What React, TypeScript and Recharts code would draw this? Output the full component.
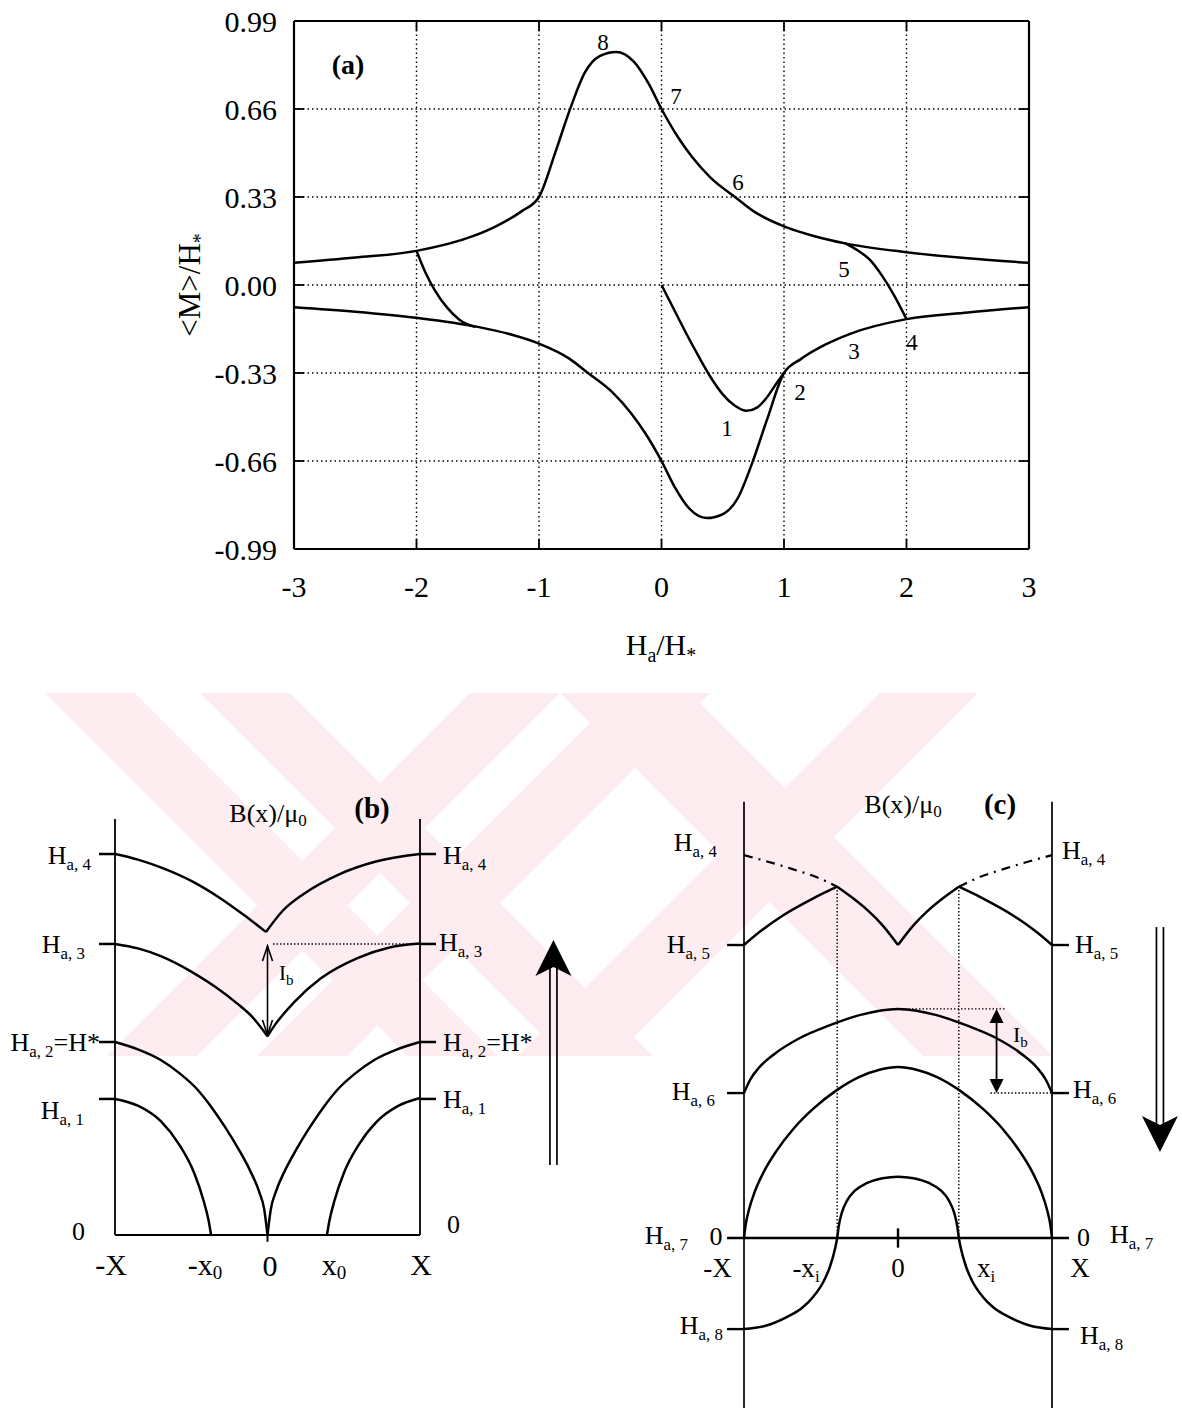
import React from 'react';
import { ComposedChart, Line, XAxis, YAxis, CartesianGrid, ReferenceLine } from 'recharts';

const W = 1182;
const H = 1409;
const FONT = "'Liberation Serif', 'Times New Roman', serif";
const INK = '#000';

// ---------------- Panel (a) data ----------------
const xTicksA = [-3, -2, -1, 0, 1, 2, 3];
const yTicksA = [-0.99, -0.66, -0.33, 0, 0.33, 0.66, 0.99];

const upperBranch = [
  [-3, 0.083], [-2.5, 0.103], [-2, 0.128], [-1.54, 0.183], [-1.34, 0.223], [-1.14, 0.277], [-1, 0.33],
  [-0.862, 0.504], [-0.743, 0.664], [-0.624, 0.798], [-0.505, 0.858], [-0.37, 0.874], [-0.226, 0.838],
  [-0.107, 0.757], [0, 0.66], [0.131, 0.557], [0.25, 0.48], [0.4, 0.403], [0.6, 0.33], [0.75, 0.277],
  [1, 0.22], [1.25, 0.183], [1.5, 0.156], [2, 0.123], [2.5, 0.1], [3, 0.083],
];
const lowerBranch = [
  [-3, -0.083], [-2.5, -0.1], [-2, -0.123], [-1.5, -0.157], [-1.25, -0.183], [-1, -0.22], [-0.75, -0.277],
  [-0.6, -0.33], [-0.4, -0.403], [-0.25, -0.48], [-0.131, -0.557], [0, -0.66], [0.107, -0.757],
  [0.226, -0.838], [0.37, -0.874], [0.505, -0.858], [0.624, -0.798], [0.743, -0.664], [0.862, -0.504],
  [1, -0.33], [1.14, -0.277], [1.34, -0.223], [1.54, -0.183], [2, -0.128], [2.5, -0.103], [3, -0.083],
];
const initialCurve = [
  [0, 0], [0.1, -0.09], [0.2, -0.18], [0.3, -0.265], [0.4, -0.345], [0.5, -0.41], [0.6, -0.453],
  [0.695, -0.472], [0.78, -0.46], [0.846, -0.43], [0.945, -0.365], [1, -0.33],
];
const rightMinorLoop = [[1.5, 0.156], [1.6, 0.13], [1.7, 0.095], [1.8, 0.035], [1.9, -0.04], [2, -0.128]];
const leftMinorLoop = [[-2, 0.128], [-1.93, 0.05], [-1.85, -0.02], [-1.75, -0.085], [-1.65, -0.13], [-1.52, -0.157]];

// ---------------- Panel (b) data (x: -X..X -> -1..1, y in units of H*) ----------------
const bLevels = [0.705, 1.0, 1.508, 1.974];
const bHa1Left = [[-1, 0.705], [-0.85, 0.67], [-0.7, 0.59], [-0.58, 0.47], [-0.48, 0.32], [-0.42, 0.18], [-0.385, 0.07], [-0.37, 0]];
const bHa1Right = [[0.39, 0], [0.405, 0.07], [0.44, 0.18], [0.5, 0.32], [0.6, 0.47], [0.72, 0.59], [0.86, 0.67], [1, 0.71]];
const bHa2Left = [
  [-1, 1], [-0.85, 0.962], [-0.7, 0.907], [-0.58, 0.84], [-0.466, 0.759], [-0.37, 0.665], [-0.279, 0.56],
  [-0.19, 0.445], [-0.115, 0.335], [-0.055, 0.225], [-0.021, 0.13], [0, 0],
];
const bHa2Right = [
  [0, 0], [0.021, 0.13], [0.055, 0.225], [0.115, 0.335], [0.19, 0.445], [0.279, 0.56], [0.37, 0.665],
  [0.466, 0.759], [0.58, 0.84], [0.7, 0.907], [0.85, 0.962], [1, 1],
];
const bHa3Left = [[-1, 1.508], [-0.85, 1.485], [-0.7, 1.445], [-0.5, 1.365], [-0.35, 1.29], [-0.2, 1.2], [-0.1, 1.13], [0, 1.03]];
const bHa3Right = [[0, 1.03], [0.05, 1.09], [0.167, 1.2], [0.35, 1.33], [0.59, 1.435], [0.8, 1.49], [1, 1.51]];
const bHa4Left = [[-1, 1.974], [-0.85, 1.945], [-0.7, 1.905], [-0.5, 1.835], [-0.3, 1.74], [-0.15, 1.655], [-0.01, 1.57]];
const bHa4Right = [[-0.01, 1.57], [0.1, 1.68], [0.237, 1.767], [0.47, 1.869], [0.705, 1.934], [1, 1.974]];

// ---------------- Panel (c) data ----------------
const cStubLevels = [1.518, 0.751, -0.472];
const cXi = 0.395;
const cHa4DashLeft = [[-1, 1.984], [-0.7, 1.915], [-0.5, 1.86], [-0.395, 1.82]];
const cHa4DashRight = [[0.395, 1.82], [0.5, 1.86], [0.7, 1.915], [1, 1.984]];
const cHa5ArmLeft = [[-1, 1.518], [-0.9, 1.585], [-0.75, 1.67], [-0.55, 1.76], [-0.395, 1.82]];
const cHa5VLeft = [[-0.395, 1.82], [-0.3, 1.765], [-0.2, 1.7], [-0.1, 1.62], [0, 1.518]];
const cHa5VRight = [[0, 1.518], [0.1, 1.62], [0.2, 1.7], [0.3, 1.765], [0.395, 1.82]];
const cHa5ArmRight = [[0.395, 1.82], [0.55, 1.76], [0.75, 1.67], [0.9, 1.585], [1, 1.518]];
const cHa6Arch = [
  [-1, 0.751], [-0.96, 0.82], [-0.9, 0.885], [-0.8, 0.955], [-0.64, 1.035], [-0.45, 1.1], [-0.25, 1.155],
  [0, 1.187], [0.25, 1.155], [0.45, 1.1], [0.64, 1.035], [0.8, 0.955], [0.9, 0.885], [0.96, 0.82], [1, 0.751],
];
const cMiddleArch = [
  [-1, 0], [-0.99, 0.065], [-0.97, 0.14], [-0.93, 0.24], [-0.87, 0.345], [-0.79, 0.45], [-0.68, 0.565],
  [-0.55, 0.67], [-0.4, 0.765], [-0.25, 0.835], [-0.12, 0.872], [0, 0.886], [0.12, 0.872], [0.25, 0.835],
  [0.4, 0.765], [0.55, 0.67], [0.68, 0.565], [0.79, 0.45], [0.87, 0.345], [0.93, 0.24], [0.97, 0.14],
  [0.99, 0.065], [1, 0],
];
const cHa8Curve = [
  [-1, -0.472], [-0.86, -0.455], [-0.723, -0.41], [-0.62, -0.36], [-0.55, -0.304], [-0.48, -0.22],
  [-0.442, -0.149], [-0.41, -0.06], [-0.395, 0], [-0.385, 0.06], [-0.365, 0.13], [-0.33, 0.195],
  [-0.28, 0.245], [-0.2, 0.285], [-0.1, 0.31], [0, 0.318], [0.1, 0.31], [0.2, 0.285], [0.28, 0.245],
  [0.33, 0.195], [0.365, 0.13], [0.385, 0.06], [0.395, 0], [0.41, -0.06], [0.442, -0.149], [0.48, -0.22],
  [0.55, -0.304], [0.62, -0.36], [0.723, -0.41], [0.86, -0.455], [1, -0.472],
];

// watermark bands: [topLeftX, topRightX, direction]
const watermarkBands = [
  [45, 135, 1], [200, 290, 1], [470, 560, -1], [620, 710, -1], [560, 690, 1], [880, 978, -1],
];

const pts = (a: number[][]) => a.map(([x, y]) => ({ x, y }));

// pixel mapping of schematic panels
const mapB = { cx: 267.5, sx: 152.5, cy: 1235, sy: 193, xd: [-1.6, 2.1], yd: [-0.4, 2.4] };
const mapC = { cx: 898, sx: 154, cy: 1238, sy: 193, xd: [-1.4, 1.8], yd: [-0.885, 2.4] };
const marginsFor = (m: any) => ({
  left: m.cx + m.sx * m.xd[0],
  right: W - (m.cx + m.sx * m.xd[1]),
  top: m.cy - m.sy * m.yd[1],
  bottom: H - (m.cy - m.sy * m.yd[0]),
});

const curve = (data: number[][], key: string, extra: any = {}) => (
  <Line
    key={key}
    data={pts(data)}
    dataKey="y"
    type="monotone"
    dot={false}
    activeDot={false}
    stroke={INK}
    strokeWidth={2.5}
    isAnimationActive={false}
    legendType="none"
    {...extra}
  />
);

const seg = (key: string, x1: number, y1: number, x2: number, y2: number, extra: any = {}) => (
  <ReferenceLine
    key={key}
    segment={[{ x: x1, y: y1 }, { x: x2, y: y2 }]}
    stroke={INK}
    strokeWidth={2}
    ifOverflow="visible"
    {...extra}
  />
);

// arrow shapes
const openDoubleArrow = (p: any) => {
  const { x1, y1, y2 } = p;
  const top = Math.min(y1, y2);
  const bot = Math.max(y1, y2);
  const hl = 15;
  const hw = 5;
  return (
    <g>
      <line x1={x1} y1={top} x2={x1} y2={bot} stroke={INK} strokeWidth={1.6} />
      <polyline points={`${x1 - hw},${top + hl} ${x1},${top} ${x1 + hw},${top + hl}`} fill="none" stroke={INK} strokeWidth={1.6} />
      <polyline points={`${x1 - hw},${bot - hl} ${x1},${bot} ${x1 + hw},${bot - hl}`} fill="none" stroke={INK} strokeWidth={1.6} />
    </g>
  );
};
const solidDoubleArrow = (p: any) => {
  const { x1, y1, y2 } = p;
  const top = Math.min(y1, y2);
  const bot = Math.max(y1, y2);
  const hl = 14;
  const hw = 7;
  return (
    <g>
      <line x1={x1} y1={top + 6} x2={x1} y2={bot - 6} stroke={INK} strokeWidth={1.8} />
      <polygon points={`${x1 - hw},${top + hl} ${x1},${top} ${x1 + hw},${top + hl}`} fill={INK} />
      <polygon points={`${x1 - hw},${bot - hl} ${x1},${bot} ${x1 + hw},${bot - hl}`} fill={INK} />
    </g>
  );
};
const bigArrow = (p: any) => {
  const { x1, y1, x2, y2 } = p;
  const dir = Math.sign(y2 - y1);
  const headLen = 36;
  const half = 18;
  const notch = 9;
  const gap = 3.5;
  const back = y2 - dir * headLen;
  return (
    <g>
      <line x1={x1 - gap} y1={y1} x2={x1 - gap} y2={back + dir * notch} stroke={INK} strokeWidth={1.7} />
      <line x1={x1 + gap} y1={y1} x2={x1 + gap} y2={back + dir * notch} stroke={INK} strokeWidth={1.7} />
      <polygon points={`${x2},${y2} ${x2 - half},${back} ${x2},${back + dir * notch} ${x2 + half},${back}`} fill={INK} />
    </g>
  );
};

const axisFont = { fontSize: 30, fontFamily: FONT, fill: INK };

function PanelA() {
  const tx = 10 / 122.5;
  const ty = 10 / 266.7;
  const innerY = yTicksA.filter((v) => Math.abs(v) < 0.9);
  const innerX = xTicksA.filter((v) => Math.abs(v) < 2.9);
  return (
    <ComposedChart width={1100} height={680} margin={{ top: 21, right: 71, bottom: 31, left: 0 }}>
      <CartesianGrid stroke={INK} strokeDasharray="1.5 3" strokeWidth={1.4} />
      <XAxis
        type="number"
        dataKey="x"
        domain={[-3, 3]}
        ticks={xTicksA}
        height={100}
        tickLine={false}
        axisLine={false}
        tickSize={0}
        tickMargin={27}
        tick={axisFont}
        allowDataOverflow
      />
      <YAxis
        type="number"
        domain={[-0.99, 0.99]}
        ticks={yTicksA}
        width={294}
        tickLine={false}
        axisLine={false}
        tickSize={0}
        tickMargin={17}
        tick={axisFont}
        tickFormatter={(v: number) => v.toFixed(2)}
        allowDataOverflow
      />
      {curve(upperBranch, 'up')}
      {curve(lowerBranch, 'low')}
      {curve(initialCurve, 'init')}
      {curve(rightMinorLoop, 'rl')}
      {curve(leftMinorLoop, 'll')}
      {seg('fl', -3, -0.99, -3, 0.99, { strokeWidth: 2.2 })}
      {seg('fr', 3, -0.99, 3, 0.99, { strokeWidth: 2.2 })}
      {seg('fb', -3, -0.99, 3, -0.99, { strokeWidth: 2.2 })}
      {seg('ft', -3, 0.99, 3, 0.99, { strokeWidth: 2.2 })}
      {innerY.map((v) => seg('tl' + v, -3, v, -3 + tx, v, { strokeWidth: 1.8 }))}
      {innerY.map((v) => seg('tr' + v, 3 - tx, v, 3, v, { strokeWidth: 1.8 }))}
      {innerX.map((v) => seg('tb' + v, v, -0.99, v, -0.99 + ty, { strokeWidth: 1.8 }))}
      {innerX.map((v) => seg('tt' + v, v, 0.99 - ty, v, 0.99, { strokeWidth: 1.8 }))}
    </ComposedChart>
  );
}

function PanelB() {
  const dotted = { strokeDasharray: '1.5 2', strokeWidth: 1.4 };
  return (
    <ComposedChart width={W} height={H} margin={marginsFor(mapB)}>
      <XAxis type="number" dataKey="x" domain={mapB.xd} hide allowDataOverflow />
      <YAxis type="number" domain={mapB.yd} hide allowDataOverflow />
      {seg('vl', -1, 0, -1, 2.155, { strokeWidth: 1.8 })}
      {seg('vr', 1, 0, 1, 2.155, { strokeWidth: 1.8 })}
      {seg('z', -1, 0, 1, 0, { strokeWidth: 2.2 })}
      {seg('zt', 0, 0, 0, -0.035, { strokeWidth: 2 })}
      {bLevels.map((v) => seg('sl' + v, -1.105, v, -1, v, { strokeWidth: 2.5 }))}
      {bLevels.map((v) => seg('sr' + v, 1, v, 1.105, v, { strokeWidth: 2.5 }))}
      {seg('d3', 0.036, 1.508, 1, 1.508, dotted)}
      {curve(bHa1Left, 'b1l')}
      {curve(bHa1Right, 'b1r')}
      {curve(bHa2Left, 'b2l')}
      {curve(bHa2Right, 'b2r')}
      {curve(bHa3Left, 'b3l')}
      {curve(bHa3Right, 'b3r')}
      {curve(bHa4Left, 'b4l')}
      {curve(bHa4Right, 'b4r')}
      {seg('ib', 0, 1.036, 0, 1.497, { shape: openDoubleArrow })}
      {seg('up', 1.875, 0.363, 1.875, 1.528, { shape: bigArrow })}
    </ComposedChart>
  );
}

function PanelC() {
  const dotted = { strokeDasharray: '1.5 2', strokeWidth: 1.4 };
  return (
    <ComposedChart width={W} height={H} margin={marginsFor(mapC)}>
      <XAxis type="number" dataKey="x" domain={mapC.xd} hide allowDataOverflow />
      <YAxis type="number" domain={mapC.yd} hide allowDataOverflow />
      {seg('vl', -1, -0.881, -1, 2.26, { strokeWidth: 1.7 })}
      {seg('vr', 1, -0.881, 1, 2.26, { strokeWidth: 1.7 })}
      {seg('z', -1.11, 0, 1.11, 0, { strokeWidth: 2.4 })}
      {seg('zt', 0, -0.05, 0, 0.05, { strokeWidth: 2.4 })}
      {cStubLevels.map((v) => seg('sl' + v, -1.11, v, -1, v, { strokeWidth: 2.4 }))}
      {cStubLevels.map((v) => seg('sr' + v, 1, v, 1.11, v, { strokeWidth: 2.4 }))}
      {seg('dxl', -cXi, 0, -cXi, 1.82, dotted)}
      {seg('dxr', cXi, 0, cXi, 1.82, dotted)}
      {seg('dh1', 0, 1.187, 0.7, 1.187, dotted)}
      {seg('dh2', 0.6, 0.751, 1, 0.751, dotted)}
      {curve(cHa4DashLeft, 'c4l', { strokeDasharray: '9 6 2 6', strokeWidth: 2.2 })}
      {curve(cHa4DashRight, 'c4r', { strokeDasharray: '9 6 2 6', strokeWidth: 2.2 })}
      {curve(cHa5ArmLeft, 'c5a')}
      {curve(cHa5VLeft, 'c5b')}
      {curve(cHa5VRight, 'c5c')}
      {curve(cHa5ArmRight, 'c5d')}
      {curve(cHa6Arch, 'c6')}
      {curve(cMiddleArch, 'cm')}
      {curve(cHa8Curve, 'c8')}
      {seg('ib', 0.64, 0.751, 0.64, 1.187, { shape: solidDoubleArrow })}
      {seg('down', 1.701, 1.611, 1.701, 0.446, { shape: bigArrow })}
    </ComposedChart>
  );
}

function Watermark() {
  const top = 693;
  const bot = 1056;
  const d = bot - top;
  return (
    <svg width={W} height={H} style={{ position: 'absolute', left: 0, top: 0 }}>
      <defs>
        <clipPath id="wmclip">
          <rect x={40} y={top} width={1013} height={d} />
        </clipPath>
      </defs>
      <g clipPath="url(#wmclip)" fill="#fdedf0">
        {watermarkBands.map(([a, b, dir], i) => (
          <polygon key={i} points={`${a},${top} ${b},${top} ${b + dir * d},${bot} ${a + dir * d},${bot}`} />
        ))}
      </g>
    </svg>
  );
}

const HL = ({ x, y, sub, extra, anchor = 'end', size = 26 }: any) => (
  <text x={x} y={y} textAnchor={anchor} fontSize={size} fontFamily={FONT} fill={INK}>
    H<tspan fontSize={size * 0.65} dy={6}>{sub}</tspan>
    {extra ? <tspan fontSize={size} dy={-6}>{extra}</tspan> : null}
  </text>
);
const T = ({ x, y, children, anchor = 'middle', size = 26, weight = 'normal' }: any) => (
  <text x={x} y={y} textAnchor={anchor} fontSize={size} fontFamily={FONT} fontWeight={weight} fill={INK}>
    {children}
  </text>
);

function Texts() {
  return (
    <svg width={W} height={H} style={{ position: 'absolute', left: 0, top: 0, pointerEvents: 'none' }}>
      {/* panel (a) */}
      <T x={348} y={74} size={28} weight="bold">(a)</T>
      <T x={603} y={50} size={23}>8</T>
      <T x={676} y={104} size={23}>7</T>
      <T x={738} y={190} size={23}>6</T>
      <T x={844} y={277} size={23}>5</T>
      <T x={912} y={350} size={23}>4</T>
      <T x={854} y={359} size={23}>3</T>
      <T x={800} y={400} size={23}>2</T>
      <T x={727} y={436} size={23}>1</T>
      <text x={661} y={655} textAnchor="middle" fontSize={30} fontFamily={FONT} fill={INK}>
        H<tspan fontSize={20} dy={7}>a</tspan><tspan dy={-7}>/H</tspan><tspan fontSize={20} dy={7}>*</tspan>
      </text>
      <text transform="translate(190,285) rotate(-90)" x={0} y={10} textAnchor="middle" fontSize={31} fontFamily={FONT} fill={INK}>
        {'<M>/H'}<tspan fontSize={20} dy={7}>*</tspan>
      </text>

      {/* panel (b) */}
      <text x={268} y={822} textAnchor="middle" fontSize={26} fontFamily={FONT} fill={INK}>
        B(x)/μ<tspan fontSize={17} dy={4}>0</tspan>
      </text>
      <T x={372} y={818} size={29} weight="bold">(b)</T>
      <HL x={91} y={864} sub="a, 4" />
      <HL x={85} y={953} sub="a, 3" />
      <HL x={100} y={1051} sub="a, 2" extra="=H*" />
      <HL x={84} y={1119} sub="a, 1" />
      <HL x={443} y={864} sub="a, 4" anchor="start" />
      <HL x={439} y={951} sub="a, 3" anchor="start" />
      <HL x={443} y={1051} sub="a, 2" extra="=H*" anchor="start" />
      <HL x={443} y={1108} sub="a, 1" anchor="start" />
      <T x={78.5} y={1240}>0</T>
      <T x={453.5} y={1233}>0</T>
      <T x={111} y={1275} size={30}>-X</T>
      <text x={205} y={1275} textAnchor="middle" fontSize={30} fontFamily={FONT} fill={INK}>
        -x<tspan fontSize={19} dy={4}>0</tspan>
      </text>
      <T x={270} y={1276} size={30}>0</T>
      <text x={334} y={1275} textAnchor="middle" fontSize={30} fontFamily={FONT} fill={INK}>
        x<tspan fontSize={19} dy={4}>0</tspan>
      </text>
      <T x={421} y={1275} size={30}>X</T>
      <text x={279} y={980} textAnchor="start" fontSize={21} fontFamily={FONT} fill={INK}>
        I<tspan fontSize={15} dy={5}>b</tspan>
      </text>

      {/* panel (c) */}
      <text x={903} y={813} textAnchor="middle" fontSize={26} fontFamily={FONT} fill={INK}>
        B(x)/μ<tspan fontSize={17} dy={4}>0</tspan>
      </text>
      <T x={1000} y={814} size={29} weight="bold">(c)</T>
      <HL x={717} y={851} sub="a, 4" />
      <HL x={710} y={953} sub="a, 5" />
      <HL x={715} y={1100} sub="a, 6" />
      <HL x={688} y={1244} sub="a, 7" />
      <HL x={723} y={1334} sub="a, 8" />
      <T x={716} y={1245}>0</T>
      <HL x={1062} y={859} sub="a, 4" anchor="start" />
      <HL x={1075} y={953} sub="a, 5" anchor="start" />
      <HL x={1073} y={1098} sub="a, 6" anchor="start" />
      <T x={1083.5} y={1246}>0</T>
      <HL x={1110} y={1243} sub="a, 7" anchor="start" />
      <HL x={1080} y={1344} sub="a, 8" anchor="start" />
      <T x={717.5} y={1277} size={27}>-X</T>
      <text x={806} y={1277} textAnchor="middle" fontSize={27} fontFamily={FONT} fill={INK}>
        -x<tspan fontSize={17} dy={5}>i</tspan>
      </text>
      <T x={898} y={1277} size={27}>0</T>
      <text x={986} y={1277} textAnchor="middle" fontSize={27} fontFamily={FONT} fill={INK}>
        x<tspan fontSize={17} dy={5}>i</tspan>
      </text>
      <T x={1080} y={1277} size={27}>X</T>
      <text x={1013} y={1042} textAnchor="start" fontSize={22} fontFamily={FONT} fill={INK}>
        I<tspan fontSize={15} dy={5}>b</tspan>
      </text>
    </svg>
  );
}

export default function App() {
  return (
    <div style={{ position: 'absolute', left: 0, top: 0, width: W, height: H, background: '#fff', overflow: 'hidden', fontFamily: FONT }}>
      <Watermark />
      <div style={{ position: 'absolute', left: 0, top: 0 }}>
        <PanelA />
      </div>
      <div style={{ position: 'absolute', left: 0, top: 0 }}>
        <PanelB />
      </div>
      <div style={{ position: 'absolute', left: 0, top: 0 }}>
        <PanelC />
      </div>
      <Texts />
    </div>
  );
}
